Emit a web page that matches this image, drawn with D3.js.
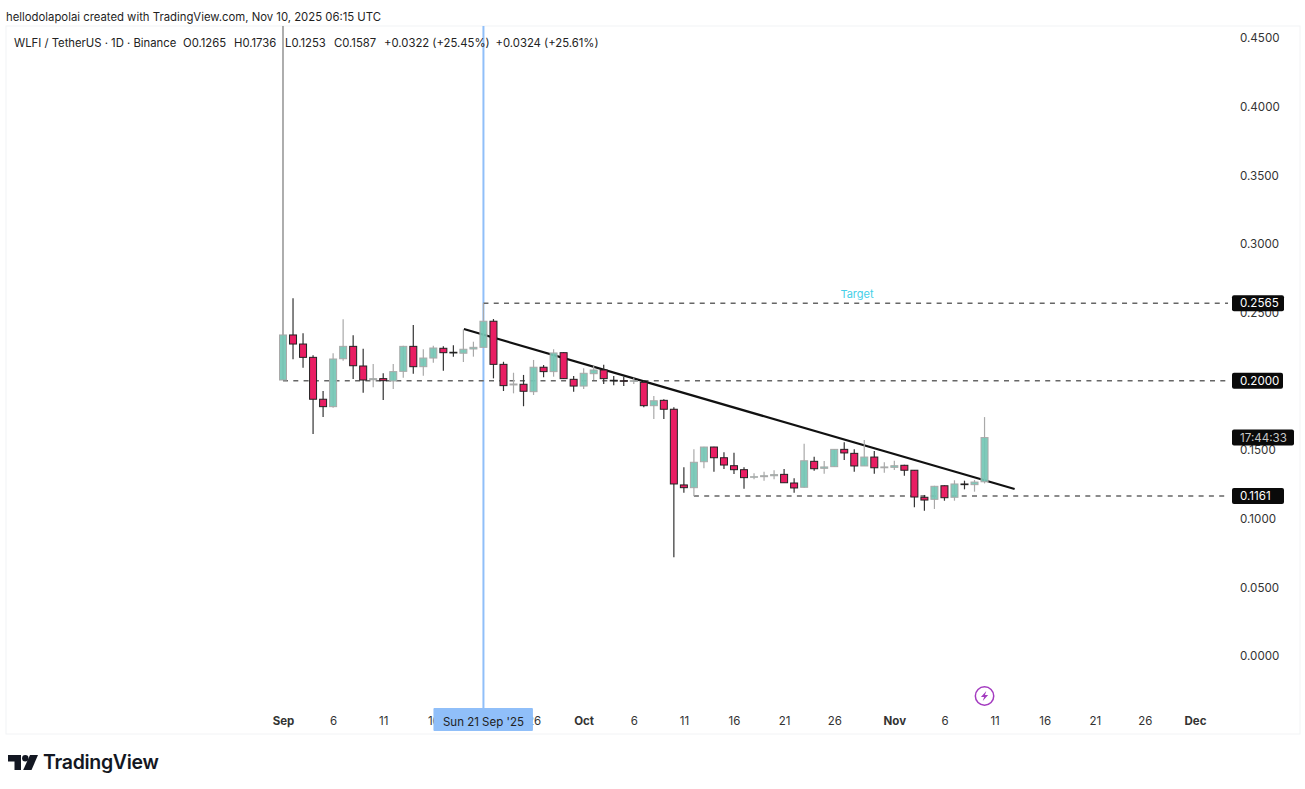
<!DOCTYPE html>
<html>
<head>
<meta charset="utf-8">
<script src="https://cdn.jsdelivr.net/npm/d3@7"></script>
<style>
  html, body { margin: 0; padding: 0; background: #fff; }
  svg { display: block; }
  text { font-family: Inter, "Liberation Sans", sans-serif; }
</style>
</head>
<body>
<svg id="chart" width="1305" height="789"></svg>
<script>
// daily candles, first one is 1 Sep 2025
const startDay = Date.UTC(2025, 8, 1);
const opens = [
  0.2006, 0.2334, 0.2268, 0.2171, 0.1866, 0.1812, 0.2161, 0.2251, 0.2108, 0.2008, 0.2016,
  0.1999, 0.2069, 0.2251, 0.2103, 0.2166, 0.2237, 0.2208, 0.2201, 0.2232, 0.2244, 0.2434,
  0.2120, 0.1970, 0.1975, 0.1921, 0.2099, 0.2067, 0.2205, 0.2011, 0.1962, 0.2052, 0.2079,
  0.2004, 0.2001, 0.1997, 0.1989, 0.1819, 0.1858, 0.1793, 0.1242, 0.1222, 0.1411, 0.1518,
  0.1440, 0.1382, 0.1353, 0.1298, 0.1302, 0.1309, 0.1319, 0.1256, 0.1225, 0.1414, 0.1363,
  0.1375, 0.1501, 0.1472, 0.1380, 0.1445, 0.1367, 0.1370, 0.1385, 0.1349, 0.1152, 0.1137,
  0.1236, 0.1152, 0.1249, 0.1244, 0.1265
];
const highs = [
  0.4584, 0.2601, 0.2346, 0.2186, 0.1926, 0.2201, 0.2448, 0.2332, 0.2234, 0.2123, 0.2055,
  0.2123, 0.2256, 0.2407, 0.2230, 0.2256, 0.2251, 0.2259, 0.2375, 0.2285, 0.2565, 0.2450,
  0.2139, 0.2059, 0.2043, 0.2152, 0.2115, 0.2230, 0.2208, 0.2035, 0.2091, 0.2110, 0.2118,
  0.2035, 0.2030, 0.2023, 0.2001, 0.1890, 0.1866, 0.1807, 0.1370, 0.1501, 0.1520, 0.1520,
  0.1480, 0.1477, 0.1370, 0.1327, 0.1338, 0.1349, 0.1358, 0.1290, 0.1542, 0.1448, 0.1416,
  0.1504, 0.1552, 0.1501, 0.1569, 0.1489, 0.1407, 0.1418, 0.1389, 0.1351, 0.1169, 0.1236,
  0.1239, 0.1276, 0.1273, 0.1278, 0.1736
];
const lows = [
  0.2006, 0.2157, 0.2096, 0.1613, 0.1737, 0.1804, 0.2147, 0.2013, 0.1914, 0.1953, 0.1860,
  0.1941, 0.2023, 0.2052, 0.2037, 0.2132, 0.2074, 0.2176, 0.2137, 0.2176, 0.2240, 0.2018,
  0.1926, 0.1909, 0.1815, 0.1897, 0.2026, 0.2030, 0.2013, 0.1921, 0.1941, 0.2006, 0.1977,
  0.1967, 0.1962, 0.1977, 0.1807, 0.1722, 0.1722, 0.0715, 0.1185, 0.1161, 0.1363, 0.1338,
  0.1358, 0.1322, 0.1215, 0.1283, 0.1273, 0.1283, 0.1258, 0.1185, 0.1222, 0.1346, 0.1324,
  0.1373, 0.1424, 0.1338, 0.1380, 0.1324, 0.1331, 0.1351, 0.1309, 0.1079, 0.1054, 0.1067,
  0.1127, 0.1127, 0.1210, 0.1193, 0.1253
];
const closes = [
  0.2334, 0.2268, 0.2171, 0.1866, 0.1812, 0.2159, 0.2251, 0.2110, 0.2006, 0.2016, 0.2001,
  0.2067, 0.2251, 0.2103, 0.2166, 0.2239, 0.2205, 0.2203, 0.2230, 0.2244, 0.2434, 0.2120,
  0.1965, 0.1977, 0.1924, 0.2099, 0.2067, 0.2203, 0.2016, 0.1962, 0.2055, 0.2079, 0.2016,
  0.1999, 0.1997, 0.2001, 0.1819, 0.1855, 0.1793, 0.1249, 0.1222, 0.1407, 0.1518, 0.1440,
  0.1387, 0.1353, 0.1295, 0.1302, 0.1309, 0.1317, 0.1258, 0.1220, 0.1418, 0.1360, 0.1373,
  0.1501, 0.1475, 0.1380, 0.1445, 0.1367, 0.1373, 0.1382, 0.1349, 0.1154, 0.1132, 0.1232,
  0.1149, 0.1249, 0.1244, 0.1263, 0.1587
];

const priceTicks = [0, 0.05, 0.1, 0.15, 0.2, 0.25, 0.3, 0.35, 0.4, 0.45];
const dayTicks = [
  [2025, 8, 1, "Sep"], [2025, 8, 6, "6"], [2025, 8, 11, "11"], [2025, 8, 16, "16"],
  [2025, 8, 21, "21"], [2025, 8, 26, "26"], [2025, 9, 1, "Oct"], [2025, 9, 6, "6"],
  [2025, 9, 11, "11"], [2025, 9, 16, "16"], [2025, 9, 21, "21"], [2025, 9, 26, "26"],
  [2025, 10, 1, "Nov"], [2025, 10, 6, "6"], [2025, 10, 11, "11"], [2025, 10, 16, "16"],
  [2025, 10, 21, "21"], [2025, 10, 26, "26"], [2025, 11, 1, "Dec"]
];
const monthNames = ["Sep", "Oct", "Nov", "Dec"];

const legendParts = [
  [14, "WLFI / TetherUS · 1D · Binance"], [183, "O0.1265"], [234, "H0.1736"], [285, "L0.1253"],
  [334, "C0.1587"], [384, "+0.0322 (+25.45%)"], [495.5, "+0.0324 (+25.61%)"]
];

// horizontal levels: price, first candle index
const levels = [[0.2565, 20], [0.2, 0], [0.1161, 41]];
const trendDays = [18.05, 73];
const trendPrices = [0.2377, 0.1212];

const svg = d3.select("#chart");
const day = i => new Date(startDay + i * 864e5);

const x = d3.scaleUtc()
  .domain([new Date(Date.UTC(2025, 8, 1)), new Date(Date.UTC(2025, 11, 1))])
  .range([283, 1195]);
const y = d3.scaleLinear().domain([0, 0.45]).range([655.5, 37.5]);

// pane frame
svg.append("rect")
  .attr("x", 6).attr("y", 26).attr("width", 1294).attr("height", 708)
  .attr("fill", "none").attr("stroke", "#f2f3f5");

// header
svg.append("text")
  .attr("x", 6).attr("y", 21)
  .attr("font-size", 11.33).attr("fill", "#1f1f1f")
  .text("hellodolapolai created with TradingView.com, Nov 10, 2025 06:15 UTC");

// axes
const yAxis = d3.axisRight(y).tickValues(priceTicks).tickSize(0).tickPadding(0)
  .tickFormat(d3.format(".4f"));
const yG = svg.append("g").attr("transform", "translate(1240,0.5)").call(yAxis);
yG.select(".domain").remove();
yG.selectAll("text")
  .attr("font-size", 11.6).attr("fill", "#333")
  .style("font-family", "Inter, sans-serif");

const xAxis = d3.axisBottom(x)
  .tickValues(dayTicks.map(d => new Date(Date.UTC(d[0], d[1], d[2]))))
  .tickSize(0).tickPadding(0)
  .tickFormat((d, i) => dayTicks[i][3]);
const xG = svg.append("g").attr("transform", "translate(0,717)").call(xAxis);
xG.select(".domain").remove();
xG.selectAll("text")
  .attr("font-size", 11.5).attr("fill", "#333")
  .style("font-family", "Inter, sans-serif")
  .attr("font-weight", (d, i) => monthNames.includes(dayTicks[i][3]) ? 700 : 400);

// crosshair line
const crossX = x(day(20));
svg.append("line")
  .attr("x1", crossX).attr("x2", crossX).attr("y1", 26).attr("y2", 708)
  .attr("stroke", "#90bff9").attr("stroke-width", 2);

// dashed levels
svg.append("g").selectAll("line").data(levels).join("line")
  .attr("x1", d => x(day(d[1])))
  .attr("x2", 1228)
  .attr("y1", d => y(d[0]))
  .attr("y2", d => y(d[0]))
  .attr("stroke", "#666")
  .attr("stroke-width", 1.5)
  .attr("stroke-dasharray", "5 5.3");

svg.append("text")
  .attr("x", 857).attr("y", 298)
  .attr("text-anchor", "middle")
  .attr("font-size", 11).attr("fill", "#45cfe8")
  .text("Target");

// trend line
svg.append("line")
  .attr("x1", x(day(trendDays[0]))).attr("y1", y(trendPrices[0]))
  .attr("x2", x(day(trendDays[1]))).attr("y2", y(trendPrices[1]))
  .attr("stroke", "#111").attr("stroke-width", 2.2);

// candles
const candles = opens.map((o, i) => ({ i, o, h: highs[i], l: lows[i], c: closes[i] }));
const bodyW = 7;
const gCandle = svg.append("g").selectAll("g").data(candles).join("g");

gCandle.append("line")
  .attr("x1", d => x(day(d.i))).attr("x2", d => x(day(d.i)))
  .attr("y1", d => y(d.h)).attr("y2", d => y(d.l))
  .attr("stroke", d => d.i === 0 ? "#777" : d.c >= d.o ? "#a9a9a9" : "#333")
  .attr("stroke-width", 1.2);

gCandle.append("rect")
  .attr("x", d => x(day(d.i)) - bodyW / 2)
  .attr("width", bodyW)
  .attr("y", d => y(Math.max(d.o, d.c)))
  .attr("height", d => Math.max(0.6, Math.abs(y(d.o) - y(d.c))))
  .attr("fill", d => d.c >= d.o ? "#74c7b5" : "#e91e63")
  .attr("fill-opacity", d => d.c >= d.o ? 0.92 : 1)
  .attr("stroke", d => d.c >= d.o ? "#a9a9a9" : "#222")
  .attr("stroke-width", 1);

// legend, on top of the candles
svg.append("g").selectAll("text").data(legendParts).join("text")
  .attr("x", d => d[0]).attr("y", 46.5)
  .attr("font-size", 11.3).attr("fill", "#222")
  .text(d => d[1]);

// price labels
const priceLabels = [
  { p: 0.2565, t: "0.2565", w: 52, c: "#fff" },
  { p: 0.2, t: "0.2000", w: 51, c: "#fff" },
  { p: 0.1587, t: "17:44:33", w: 62, c: "#c8c8c8" },
  { p: 0.1161, t: "0.1161", w: 52, c: "#fff" }
];
const gLabel = svg.append("g").selectAll("g").data(priceLabels).join("g")
  .attr("transform", d => `translate(1232,${y(d.p)})`);
gLabel.append("rect")
  .attr("y", -8).attr("width", d => d.w).attr("height", 16).attr("rx", 2)
  .attr("fill", "#0a0a0a");
gLabel.append("text")
  .attr("x", 8).attr("dy", "0.35em")
  .attr("font-size", 11.6).attr("fill", d => d.c)
  .text(d => d.t);

// crosshair date label covers the axis labels under it
svg.append("rect")
  .attr("x", crossX - 50).attr("y", 708).attr("width", 99.5).attr("height", 23).attr("rx", 1)
  .attr("fill", "#90bff9");
svg.append("text")
  .attr("x", crossX).attr("y", 725.5)
  .attr("text-anchor", "middle")
  .attr("font-size", 11.5).attr("fill", "#222")
  .text("Sun 21 Sep '25");

// lightning marker
const bolt = svg.append("g").attr("transform", `translate(${x(day(70))},696)`);
bolt.append("circle").attr("r", 9.2)
  .attr("fill", "#fff").attr("stroke", "#a43cc0").attr("stroke-width", 1.5);
bolt.append("path")
  .attr("d", d3.line()([[1.8, -5], [-3.6, 1], [-0.4, 1], [-1.8, 5], [3.6, -1], [0.4, -1]]) + "Z")
  .attr("fill", "#a43cc0");

// TradingView logo
const logo = svg.append("g").attr("transform", "translate(8,755)");
logo.append("path").attr("d", "M0 0H13V15H6.5V6.5H0Z").attr("fill", "#131722");
logo.append("circle").attr("cx", 17.3).attr("cy", 3.2).attr("r", 3.2).attr("fill", "#131722");
logo.append("path").attr("d", "M22 0H30L23.5 15H15.2Z").attr("fill", "#131722");
svg.append("text")
  .attr("x", 43).attr("y", 769)
  .attr("font-size", 19.5).attr("font-weight", 600)
  .attr("letter-spacing", -0.3)
  .attr("fill", "#131722")
  .text("TradingView");
</script>
</body>
</html>
